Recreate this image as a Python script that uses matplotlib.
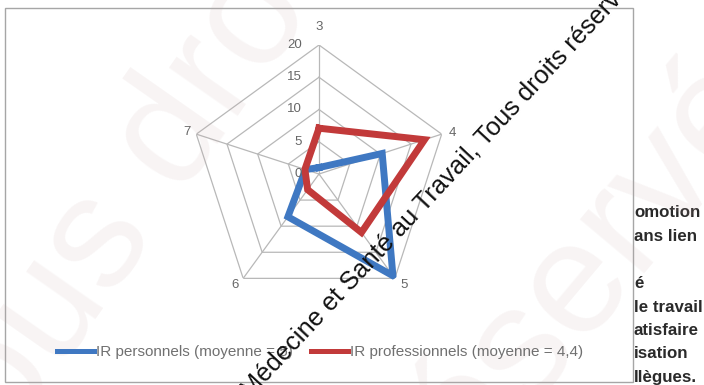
import numpy as np
import matplotlib
matplotlib.use("Agg")
import matplotlib.pyplot as plt
from matplotlib.patches import Rectangle
from matplotlib.lines import Line2D

# ---- data -------------------------------------------------------------
axis_labels = ["3", "4", "5", "6", "7"]
ir_personnels = [1.0, 10.3, 19.5, 8.2, 2.2]
ir_professionnels = [7.1, 17.2, 11.2, 3.0, 2.3]
series_names = ["IR personnels (moyenne = 5)", "IR professionnels (moyenne = 4,4)"]
radial_ticks = [0, 5, 10, 15, 20]
side_lines = ["omotion", "ans lien", "", "é", "le travail", "atisfaire",
              "isation", "llègues."]

BLUE = "#3F78C2"
RED = "#C23A3A"
GRID = "#B8B8B8"
LABEL = "#666666"
TXT_FONT = ["Liberation Sans", "DejaVu Sans"]

W, H = 704, 385
fig = plt.figure(figsize=(W / 100, H / 100), dpi=100)


def fx(px):
    return px / W


def fy(py):
    return 1 - py / H


# page text running beside the chart frame
for i, s in enumerate(side_lines):
    if s:
        fig.text(fx(634), fy(213 + 23.5 * i), s, ha="left", va="center",
                 fontsize=12.2, color="#2A2A2A", family=TXT_FONT,
                 fontweight="bold", zorder=0)

# chart frame
fig.patches.append(Rectangle((fx(5), fy(382)), fx(633) - fx(5), fy(8) - fy(382),
                             transform=fig.transFigure, facecolor="white",
                             edgecolor="#A6A6A6", linewidth=1.0, zorder=0.5))

# radar axes: centre at (319, 174) px, r=20 -> 129 px
cx, cy, R = 319, 174, 129
ax = fig.add_axes([fx(cx - R), fy(cy + R), 2 * R / W, 2 * R / H],
                  projection="polar", zorder=1)
ax.set_theta_offset(np.pi / 2)
ax.set_theta_direction(-1)
ax.set_ylim(0, 20)
ax.set_facecolor("none")
ax.grid(False)
ax.spines["polar"].set_visible(False)
ax.set_xticks([])
ax.set_yticks([])

n = len(axis_labels)
theta = np.linspace(0, 2 * np.pi, n, endpoint=False)
theta_c = np.append(theta, theta[0])

for r in radial_ticks[1:]:
    ax.plot(theta_c, [r] * (n + 1), color=GRID, lw=0.9, zorder=1)
for t in theta:
    ax.plot([t, t], [0, radial_ticks[-1]], color=GRID, lw=0.9, zorder=1)

for vals, col in [(ir_personnels, BLUE), (ir_professionnels, RED)]:
    v = np.append(vals, vals[0])
    ax.plot(theta_c, v, color=col, lw=5.0, solid_joinstyle="miter", zorder=3)

# category labels at the outer vertices
offsets = [(0, 18), (11, 1), (9, -7), (-8, -7), (-9, 2)]
for t, lab, (dx, dy) in zip(theta, axis_labels, offsets):
    ax.annotate(lab, (t, radial_ticks[-1]), xytext=(dx, dy),
                textcoords="offset pixels", ha="center", va="center",
                fontsize=9.5, color=LABEL, family=TXT_FONT, annotation_clip=False)

# radial scale along the top spoke
for r in radial_ticks:
    ax.annotate(str(r), (0, r), xytext=(-17, 0), textcoords="offset pixels",
                ha="right", va="center", fontsize=9.5, color=LABEL,
                family=TXT_FONT, annotation_clip=False)

# legend
handles = [Line2D([], [], color=BLUE, lw=3.6), Line2D([], [], color=RED, lw=3.6)]
fig.legend(handles, series_names, loc="center", bbox_to_anchor=(fx(320), fy(352)),
           ncol=2, frameon=False, handlelength=2.4, handletextpad=0.15,
           columnspacing=1.2, prop={"family": TXT_FONT, "size": 11},
           labelcolor="#707070")

# faint background lettering
fig.text(fx(150), fy(170), "Tous droits", rotation=55, rotation_mode="anchor",
         ha="center", va="center", fontsize=115, color="#C8A8A8", alpha=0.12,
         family=TXT_FONT, zorder=4)
fig.text(fx(600), fy(250), "réservés", rotation=50, rotation_mode="anchor",
         ha="center", va="center", fontsize=115, color="#C8A8A8", alpha=0.12,
         family=TXT_FONT, zorder=4)

# diagonal copyright line
fig.text(fx(250), fy(399), "Médecine et Santé au Travail, Tous droits réservés",
         rotation=47, rotation_mode="anchor", ha="left", va="baseline",
         fontsize=18.3, color="#111111", family=TXT_FONT, zorder=6)

fig.savefig("out.png", dpi=100)
